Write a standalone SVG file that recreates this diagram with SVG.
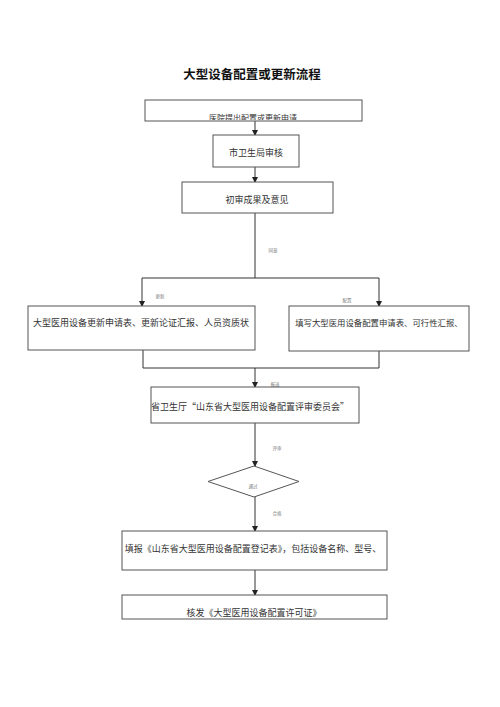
<svg xmlns="http://www.w3.org/2000/svg" width="500" height="707" viewBox="0 0 500 707">
<style>
.box{fill:#fff;stroke:#555;stroke-width:1}
.ln{fill:none;stroke:#333;stroke-width:1}
.t{font-family:"Noto Sans CJK SC",sans-serif;font-size:9px;fill:#333;text-anchor:middle}
.s{font-family:"Noto Sans CJK SC",sans-serif;font-size:4.5px;fill:#777;text-anchor:middle}
.title{font-family:"Noto Sans CJK SC",sans-serif;font-size:12.5px;font-weight:bold;fill:#111;text-anchor:middle}
</style>
<defs>
<marker id="ar" markerWidth="6" markerHeight="6" refX="5" refY="3" orient="auto" markerUnits="userSpaceOnUse">
<path d="M0,0 L6,3 L0,6 Z" fill="#222"/>
</marker>
<clipPath id="c1"><rect x="145" y="100" width="217" height="20"/></clipPath>
</defs>
<rect width="500" height="707" fill="#fff"/>
<text class="title" x="252" y="79">大型设备配置或更新流程</text>

<g id="connectors">
<line class="ln" x1="255" y1="121" x2="255" y2="135" marker-end="url(#ar)"/>
<line class="ln" x1="255" y1="167" x2="255" y2="182" marker-end="url(#ar)"/>
<polyline class="ln" points="255,213 255,278"/>
<polyline class="ln" points="142,278 379,278"/>
<line class="ln" x1="142" y1="278" x2="142" y2="306" marker-end="url(#ar)"/>
<line class="ln" x1="379" y1="278" x2="379" y2="306" marker-end="url(#ar)"/>
<polyline class="ln" points="143,350 143,368 379,368 379,351"/>
<line class="ln" x1="255" y1="368" x2="255" y2="387" marker-end="url(#ar)"/>
<line class="ln" x1="255" y1="423" x2="255" y2="466" marker-end="url(#ar)"/>
<line class="ln" x1="255" y1="497" x2="255" y2="531" marker-end="url(#ar)"/>
<line class="ln" x1="255" y1="570" x2="255" y2="595" marker-end="url(#ar)"/>
<text class="s" x="273" y="252">同意</text>
<text class="s" x="160" y="298">更新</text>
<text class="s" x="347" y="302">配置</text>
<text class="s" x="275" y="386">报送</text>
<text class="s" x="277" y="450">评审</text>
<text class="s" x="277" y="515">合格</text>
</g>

<g id="n1">
<rect class="box" x="145" y="100" width="217" height="21"/>
<text class="t" x="253" y="121" style="font-size:8px" clip-path="url(#c1)">医院提出配置或更新申请</text>
</g>
<g id="n2">
<rect class="box" x="213" y="135" width="86" height="32"/>
<text class="t" x="256" y="156">市卫生局审核</text>
</g>
<g id="n3">
<rect class="box" x="182" y="182" width="151" height="31"/>
<text class="t" x="257" y="203">初审成果及意见</text>
</g>
<g id="n4">
<rect class="box" x="28" y="306" width="227" height="44"/>
<text class="t" x="141" y="326">大型医用设备更新申请表、更新论证汇报、人员资质状</text>
</g>
<g id="n5">
<rect class="box" x="289" y="306" width="180" height="45"/>
<text class="t" x="379" y="326" style="font-size:8.4px">填写大型医用设备配置申请表、可行性汇报、</text>
</g>
<g id="n6">
<rect class="box" x="151" y="387" width="208" height="36"/>
<text class="t" x="250" y="410">省卫生厅“山东省大型医用设备配置评审委员会”</text>
</g>
<g id="n7">
<polygon class="box" points="254,466 299,481.5 254,497 208,481.5"/>
<text class="s" x="253" y="488">通过</text>
</g>
<g id="n8">
<rect class="box" x="122" y="531" width="265" height="39"/>
<text class="t" x="253" y="552">填报《山东省大型医用设备配置登记表》，包括设备名称、型号、</text>
</g>
<g id="n9">
<rect class="box" x="122" y="595" width="265" height="24"/>
<text class="t" x="254" y="616">核发《大型医用设备配置许可证》</text>
</g>
</svg>
